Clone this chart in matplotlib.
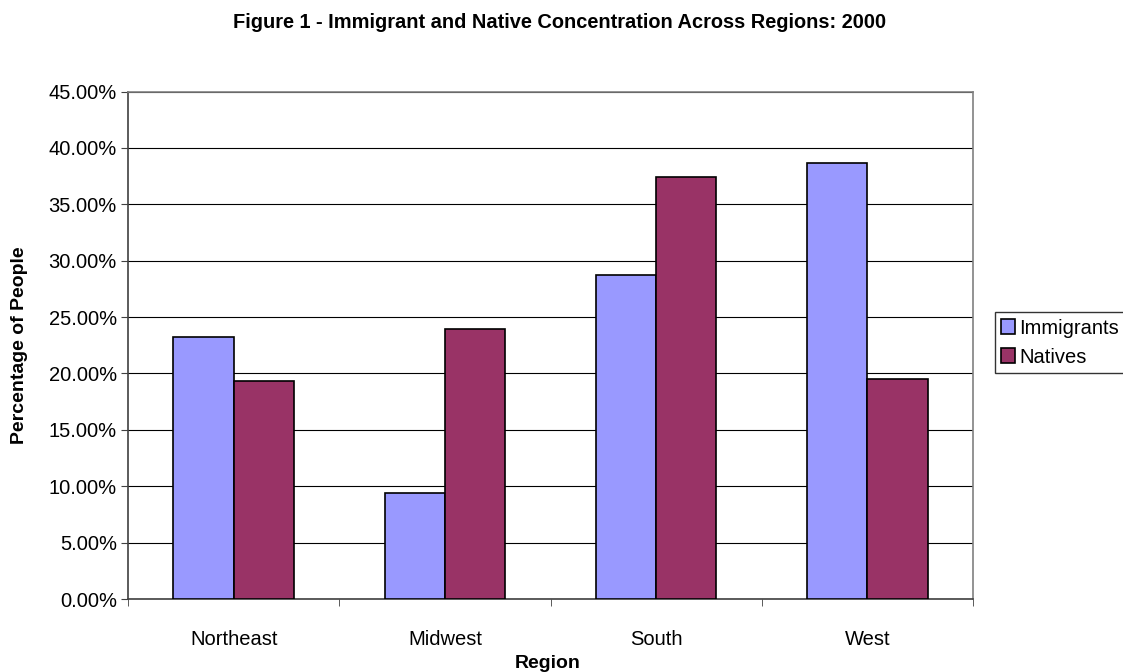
import matplotlib.pyplot as plt
import numpy as np
from matplotlib.ticker import FuncFormatter, FixedLocator

regions = ['Northeast', 'Midwest', 'South', 'West']
immigrants = [23.2, 9.4, 28.7, 38.7]
natives = [19.3, 23.9, 37.4, 19.5]
y_ticks = [0, 5, 10, 15, 20, 25, 30, 35, 40, 45]

plt.rcParams['font.family'] = ['Liberation Sans', 'DejaVu Sans']


def main():
    fig = plt.figure(figsize=(11.23, 6.72), dpi=100)
    ax = fig.add_axes([0.114, 0.1086, 0.7525, 0.7552])

    x = np.arange(len(regions))
    w = 0.285
    ax.bar(x - w / 2, immigrants, w, color='#9999FF', edgecolor='black',
           linewidth=1.2, label='Immigrants', zorder=3)
    ax.bar(x + w / 2, natives, w, color='#993366', edgecolor='black',
           linewidth=1.2, label='Natives', zorder=3)

    ax.set_xlim(-0.5, len(regions) - 0.5)
    ax.set_ylim(0, 45)
    ax.set_yticks(y_ticks)
    ax.yaxis.set_major_formatter(FuncFormatter(lambda v, p: f'{v:.2f}%'))
    ax.yaxis.grid(True, color='black', linewidth=0.8, zorder=0)

    ax.set_xticks(x)
    ax.set_xticklabels(regions)
    ax.xaxis.set_minor_locator(FixedLocator(np.arange(-0.5, len(regions), 1.0)))
    ax.tick_params(axis='x', which='major', length=0, pad=22, labelsize=14.5)
    ax.tick_params(axis='x', which='minor', length=5, direction='out', color='#404040')
    ax.tick_params(axis='y', length=5, direction='out', labelsize=14.5, color='#404040', pad=3)

    for s in ax.spines.values():
        s.set_color('#808080')
        s.set_linewidth(1.2)
    ax.spines['left'].set_color('#404040')
    ax.spines['bottom'].set_color('#404040')

    fig.text(0.4987, 0.966, 'Figure 1 - Immigrant and Native Concentration Across Regions: 2000',
             ha='center', va='center', fontsize=14.4, fontweight='bold')
    fig.text(0.4875, 0.012, 'Region', ha='center', va='center', fontsize=14, fontweight='bold')
    fig.text(0.017, 0.486, 'Percentage of People', ha='center', va='center',
             rotation=90, fontsize=14, fontweight='bold')

    leg = fig.legend(loc='upper left', bbox_to_anchor=(0.886, 0.535), fontsize=14.5,
                     frameon=True, fancybox=False, edgecolor='black',
                     handlelength=0.7, handleheight=0.7, handletextpad=0.2,
                     borderpad=0.3, labelspacing=0.5, borderaxespad=0)
    leg.get_frame().set_linewidth(1.0)

    fig.savefig('out.png', dpi=100)


if __name__ == '__main__':
    main()
